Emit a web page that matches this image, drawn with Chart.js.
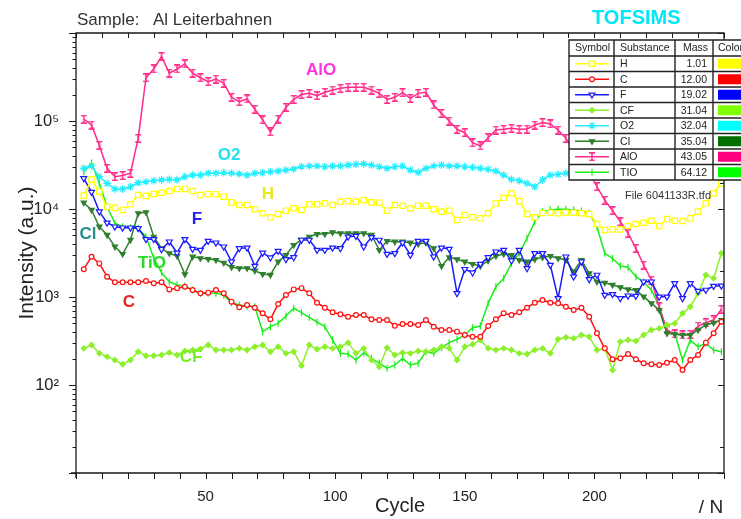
<!DOCTYPE html>
<html>
<head>
<meta charset="utf-8">
<script src="https://cdn.jsdelivr.net/npm/chart.js@4.4.1/dist/chart.umd.min.js"></script>
<style>html,body{margin:0;padding:0;background:#fff}canvas{display:block}</style>
</head>
<body>
<canvas id="c" width="741" height="519"></canvas>
<script>
// ---------- data ----------
const cycles = [3,6,9,12,15,18,21,24,27,30,33,36,39,42,45,48,51,54,57,60,63,66,69,72,75,78,81,84,87,90,93,96,99,102,105,108,111,114,117,120,123,126,129,132,135,138,141,144,147,150,153,156,159,162,165,168,171,174,177,180,183,186,189,192,195,198,201,204,207,210,213,216,219,222,225,228,231,234,237,240,243,246,249];

const H = [14200,21700,15700,10600,10300,9760,11300,14400,14100,14800,
 15300,16000,16900,16900,16000,14400,14800,14700,13800,11900,
 11100,11100,9930,8940,8050,8770,9570,10200,9760,11300,
 11300,11600,11100,12100,12300,12100,12600,11900,11800,9570,
 11100,10900,10200,10900,10900,9930,9340,9570,7500,8550,
 8050,7840,8940,11600,13400,15100,12300,8770,8050,9000,
 9080,8940,9080,9080,8940,8770,6760,5770,5870,5870,
 6410,6760,6980,7360,6410,7690,7360,7310,7840,9340,
 11600,15100,19600];

const C = [2070,2870,2410,1700,1470,1470,1470,1470,1520,1430,
 1470,1220,1260,1310,1200,1100,1120,1200,1100,885,
 764,811,755,653,558,832,1054,1220,1260,1100,
 861,755,670,636,597,624,624,558,548,548,
 472,493,493,481,548,460,422,422,404,370,
 354,354,468,558,653,624,670,755,861,925,
 861,847,776,711,755,597,387,261,196,201,
 225,196,177,172,169,179,192,148,192,219,
 303,387,524];

const F = [22300,15600,9340,6980,6290,6130,6130,6040,4530,4530,
 3480,4250,3180,4530,3510,3420,4330,4140,3730,2520,
 3570,3630,2250,3180,2800,3330,2680,2820,4450,4450,
 3420,3420,3630,3570,4840,4930,3730,4760,4450,3080,
 3140,4140,3000,4330,4330,2870,3630,3510,1100,2070,
 1890,2370,2820,3270,3420,2590,3420,2120,3140,3140,
 2310,967,2870,1700,2520,1590,1780,1054,1074,967,
 1035,1026,1493,1493,1007,1007,1432,967,1432,1169,
 1202,1334,1343];

const CF = [261,285,229,210,192,172,192,239,215,215,
 219,233,219,243,250,257,285,250,250,250,
 261,250,272,285,239,272,229,239,166,285,
 255,272,261,272,303,229,261,192,161,265,
 219,233,229,243,239,250,272,261,192,272,
 290,324,261,250,261,250,229,225,250,261,
 229,331,348,339,370,354,250,261,148,311,
 324,316,370,422,440,481,502,653,776,1100,
 1780,1630,3140];

const O2 = [29000,30800,23300,19600,16900,16800,17900,19900,20400,21000,
 21400,21700,21400,23300,24300,24300,25500,25500,25900,25500,
 25000,24300,25500,25900,26600,27000,27700,28500,30300,30800,
 30800,30300,30800,30800,31600,32200,32500,31600,30300,29000,
 30300,30800,27700,26100,29000,30800,31600,30800,30800,30300,
 29800,29000,28200,27000,24300,21700,21000,19600,17900,21400,
 24300,24800,25500,25500,25000,24300,23300,22800,24000,25000,
 25500,26000,26500,26500,27000,27000,27500,27500,28000,28000,
 28500,29000,29000];

const Cl = [11800,9760,6290,5070,3730,3080,4450,8940,9180,4840,
 3570,3140,2920,1810,2870,2750,2700,2630,2450,2180,
 2120,2120,1990,1820,1780,2520,3000,3900,4450,4840,
 5200,5200,5430,5300,5300,5300,5300,5070,3420,4330,
 4250,4250,4140,4000,4140,3570,2250,2820,2680,2520,
 2370,2250,2590,2920,3080,3000,2630,2520,2680,2820,
 2920,2750,2630,1940,2630,1860,1490,1450,1370,1290,
 1220,1200,1010,847,711,387,377,370,370,422,
 481,510,548];

const AlO = [105000,90000,53000,29000,23300,24000,25500,63500,310000,390000,
 540000,350000,390000,445000,350000,310000,280000,300000,268000,186000,
 166000,178000,136000,103000,75500,105000,143000,176000,200000,206000,
 194000,212000,225000,235000,242000,242000,242000,225000,206000,176000,
 186000,210000,181000,206000,212000,152000,122000,100000,80500,73600,
 56600,52000,64500,79000,80500,82600,80500,81000,90000,96000,
 92500,79000,63500,46800,34200,25600,17900,12600,9570,7180,
 5300,3570,2310,1560,776,422,380,370,377,468,
 510,548,725];

const TiO = [26300,33300,19600,10600,6890,6290,6130,6040,4840,2770,
 1900,1490,1370,1330,1200,1100,1100,1100,1050,861,
 811,790,776,404,460,502,608,745,664,588,
 520,460,324,229,225,192,233,201,177,155,
 169,201,169,177,239,229,265,303,331,370,
 448,468,847,1310,1630,2410,3140,4650,7180,9340,
 9760,9930,9930,9760,9490,8940,6290,3140,2750,2250,
 2180,1700,1480,1200,776,387,387,192,324,272,
 298,250,239];

const substances = ['H','C','F','CF','O2','Cl','AlO','TiO'];
const masses = ['1.01','12.00','19.02','31.04','32.04','35.04','43.05','64.12'];
const xTickLabels = [50, 100, 150, 200];
const yTickLabels = {100: '10²', 1000: '10³', 10000: '10⁴', 100000: '10⁵'};

// ---------- styling ----------
const FONT = "'Liberation Sans', Arial, Helvetica, sans-serif";
const TXT = '#222';

function makeIBeam(color) {
  const c = document.createElement('canvas');
  c.width = 8; c.height = 9;
  const g = c.getContext('2d');
  g.strokeStyle = color; g.lineWidth = 1.4;
  g.beginPath();
  g.moveTo(4, 0.7); g.lineTo(4, 8.3);
  g.moveTo(1, 0.7); g.lineTo(7, 0.7);
  g.moveTo(1, 8.3); g.lineTo(7, 8.3);
  g.stroke();
  return c;
}

const styles = {
  H:   {color: '#ffff00', swatch: '#ffff00', pointStyle: 'rect', radius: 3.8, fill: '#ffffff', rot: 0},
  C:   {color: '#ff1010', swatch: '#ff0000', pointStyle: 'circle', radius: 2.4, fill: '#ffffff', rot: 0},
  F:   {color: '#1a1aff', swatch: '#0000ff', pointStyle: 'triangle', radius: 3.4, fill: '#ffffff', rot: 180},
  CF:  {color: '#8cf02a', swatch: '#80ff00', pointStyle: 'rectRot', radius: 2.6, fill: '#8cf02a', rot: 0},
  O2:  {color: '#22eeff', swatch: '#00ffff', pointStyle: 'star', radius: 3.8, fill: '#22eeff', rot: 0},
  Cl:  {color: '#2f7f2f', swatch: '#007000', pointStyle: 'triangle', radius: 3, fill: '#2f7f2f', rot: 180},
  AlO: {color: '#ff2a8a', swatch: '#ff0080', pointStyle: makeIBeam('#ff2a8a'), radius: 4, fill: '#ff2a8a', rot: 0},
  TiO: {color: '#1aee1a', swatch: '#00ff00', pointStyle: 'line', radius: 3.5, fill: '#1aee1a', rot: 90}
};
const seriesValues = {H, C, F, CF, O2, Cl, AlO, TiO};

const seriesLabels = [
  {text: 'AlO', color: '#ff33dd', x: 321, y: 70},
  {text: 'O2',  color: '#22e0f0', x: 229, y: 155},
  {text: 'H',   color: '#e8e820', x: 268, y: 194},
  {text: 'F',   color: '#2222ee', x: 197, y: 219},
  {text: 'Cl',  color: '#2a8c8c', x: 88,  y: 234},
  {text: 'TiO', color: '#22dd22', x: 152, y: 263},
  {text: 'C',   color: '#ee2222', x: 129, y: 302},
  {text: 'CF',  color: '#77ee22', x: 191, y: 357}
];

const datasets = substances.map(name => {
  const s = styles[name];
  return {
    label: name,
    data: cycles.map((c, i) => ({x: c, y: seriesValues[name][i]})),
    borderColor: s.color,
    backgroundColor: s.fill,
    borderWidth: 1.5,
    pointStyle: s.pointStyle,
    pointRadius: s.radius,
    pointRotation: s.rot,
    pointBorderWidth: 1.2,
    pointBorderColor: s.color,
    pointBackgroundColor: s.fill,
    tension: 0
  };
});

// ---------- decorations plugin ----------
const decor = {
  id: 'decor',
  afterDatasetsDraw(chart) {
    const ctx = chart.ctx;
    ctx.save();
    ctx.textAlign = 'center';
    ctx.textBaseline = 'middle';
    ctx.font = 'bold 17px ' + FONT;
    seriesLabels.forEach(l => { ctx.fillStyle = l.color; ctx.fillText(l.text, l.x, l.y); });
    ctx.restore();
  },
  afterDraw(chart) {
    const ctx = chart.ctx, a = chart.chartArea, xs = chart.scales.x, ys = chart.scales.y;
    ctx.save();
    // frame
    ctx.strokeStyle = '#1a1a1a';
    ctx.lineWidth = 1.3;
    ctx.beginPath();
    ctx.moveTo(a.left - 5, a.bottom); ctx.lineTo(a.right, a.bottom);
    ctx.moveTo(a.left, a.bottom + 5); ctx.lineTo(a.left, a.top);
    ctx.lineTo(a.right, a.top); ctx.lineTo(a.right, a.bottom);
    ctx.stroke();
    // ticks
    ctx.lineWidth = 1;
    ctx.beginPath();
    xs.ticks.forEach(t => {
      const px = Math.round(xs.getPixelForValue(t.value)) + 0.5;
      ctx.moveTo(px, a.bottom); ctx.lineTo(px, a.bottom + 6);
      ctx.moveTo(px, a.top); ctx.lineTo(px, a.top + 5);
    });
    ys.ticks.forEach(t => {
      const v = t.value;
      const mant = Math.round(v / Math.pow(10, Math.floor(Math.log10(v) + 1e-9)));
      const py = Math.round(ys.getPixelForValue(v)) + 0.5;
      const len = mant === 1 ? 7 : 3.5;
      ctx.moveTo(a.left, py); ctx.lineTo(a.left - len, py);
      if (mant === 1 || mant === 2) { ctx.moveTo(a.right, py); ctx.lineTo(a.right - (mant === 1 ? 6 : 4), py); }
    });
    ctx.stroke();

    // "/ N"
    ctx.fillStyle = TXT;
    ctx.font = '19px ' + FONT;
    ctx.textAlign = 'center';
    ctx.textBaseline = 'middle';
    ctx.fillText('/ N', 711, 508);

    // header texts
    ctx.textAlign = 'left';
    ctx.textBaseline = 'alphabetic';
    ctx.fillStyle = '#333';
    ctx.font = '17px ' + FONT;
    ctx.fillText('Sample:', 77, 25);
    ctx.fillText('Al Leiterbahnen', 153, 25);
    ctx.fillStyle = '#00e8f8';
    ctx.font = 'bold 20px ' + FONT;
    ctx.fillText('TOFSIMS', 592, 24);

    // legend table
    const T = {left: 569, top: 40, head: 16, row: 15.5, cols: [614, 675, 713], right: 760};
    const bottom = T.top + T.head + T.row * substances.length;
    ctx.fillStyle = '#fff';
    ctx.fillRect(T.left, T.top, T.right - T.left, bottom - T.top);
    ctx.strokeStyle = '#222';
    ctx.lineWidth = 1.4;
    ctx.beginPath();
    ctx.rect(T.left, T.top, T.right - T.left, bottom - T.top);
    for (let i = 0; i < substances.length; i++) {
      const y = T.top + T.head + i * T.row;
      ctx.moveTo(T.left, y); ctx.lineTo(T.right, y);
    }
    T.cols.forEach(x => { ctx.moveTo(x, T.top); ctx.lineTo(x, bottom); });
    ctx.stroke();

    ctx.fillStyle = TXT;
    ctx.font = '10.5px ' + FONT;
    ctx.textBaseline = 'middle';
    const hy = T.top + T.head / 2 + 0.5;
    ctx.textAlign = 'left';
    ctx.fillText('Symbol', 575, hy);
    ctx.fillText('Substance', 620, hy);
    ctx.fillText('Mass', 683, hy);
    ctx.fillText('Color', 718, hy);

    substances.forEach((name, i) => {
      const s = styles[name];
      const cy = T.top + T.head + i * T.row + T.row / 2;
      ctx.strokeStyle = s.color;
      ctx.lineWidth = 1.5;
      ctx.beginPath(); ctx.moveTo(575, cy); ctx.lineTo(609, cy); ctx.stroke();
      ctx.fillStyle = s.fill;
      ctx.lineWidth = 1.2;
      Chart.helpers.drawPoint(ctx, {pointStyle: s.pointStyle, rotation: s.rot, radius: s.radius, borderWidth: 1.2}, 592, cy);
      ctx.fillStyle = TXT;
      ctx.font = '10.5px ' + FONT;
      ctx.textAlign = 'left';
      ctx.fillText(name === 'TiO' ? 'TIO' : name === 'Cl' ? 'CI' : name, 620, cy + 0.5);
      ctx.textAlign = 'right';
      ctx.fillText(masses[i], 707, cy + 0.5);
      ctx.fillStyle = s.swatch;
      ctx.fillRect(718, cy - 5, 30, 10);
    });

    // file name
    ctx.fillStyle = '#333';
    ctx.font = '11px ' + FONT;
    ctx.textAlign = 'left';
    ctx.textBaseline = 'middle';
    ctx.fillText('File 6041133R.tfd', 625, 196);
    ctx.restore();
  }
};

// ---------- chart ----------
new Chart(document.getElementById('c'), {
  type: 'line',
  data: {datasets},
  plugins: [decor],
  options: {
    responsive: false,
    animation: false,
    devicePixelRatio: 1,
    layout: {padding: {top: 33, right: 17, left: 0, bottom: 0}},
    plugins: {legend: {display: false}, tooltip: {enabled: false}},
    scales: {
      x: {
        type: 'linear', position: 'bottom', min: 0, max: 250,
        grid: {display: false}, border: {display: false},
        ticks: {
          stepSize: 10, autoSkip: false, maxRotation: 0, padding: 7,
          color: TXT, font: {family: FONT, size: 15},
          callback: v => xTickLabels.includes(v) ? String(v) : ''
        },
        title: {display: true, text: 'Cycle', color: TXT, font: {family: FONT, size: 20}, padding: {top: 0, bottom: 1}},
        afterFit: s => { s.height = 46; }
      },
      y: {
        type: 'logarithmic', position: 'left', min: 10, max: 1000000,
        grid: {display: false}, border: {display: false},
        afterBuildTicks: s => {
          const t = [];
          for (let e = 1; e <= 5; e++) for (let m = 1; m <= 9; m++) t.push({value: m * Math.pow(10, e)});
          t.push({value: 1000000});
          s.ticks = t;
        },
        ticks: {
          autoSkip: false, padding: 9, color: TXT, font: {family: FONT, size: 16.5},
          callback: v => yTickLabels[v] || ''
        },
        title: {display: true, text: 'Intensity (a.u.)', color: TXT, font: {family: FONT, size: 21}, padding: {top: 15, bottom: 0}},
        afterFit: s => { s.width = 76; }
      }
    }
  }
});
</script>
</body>
</html>
